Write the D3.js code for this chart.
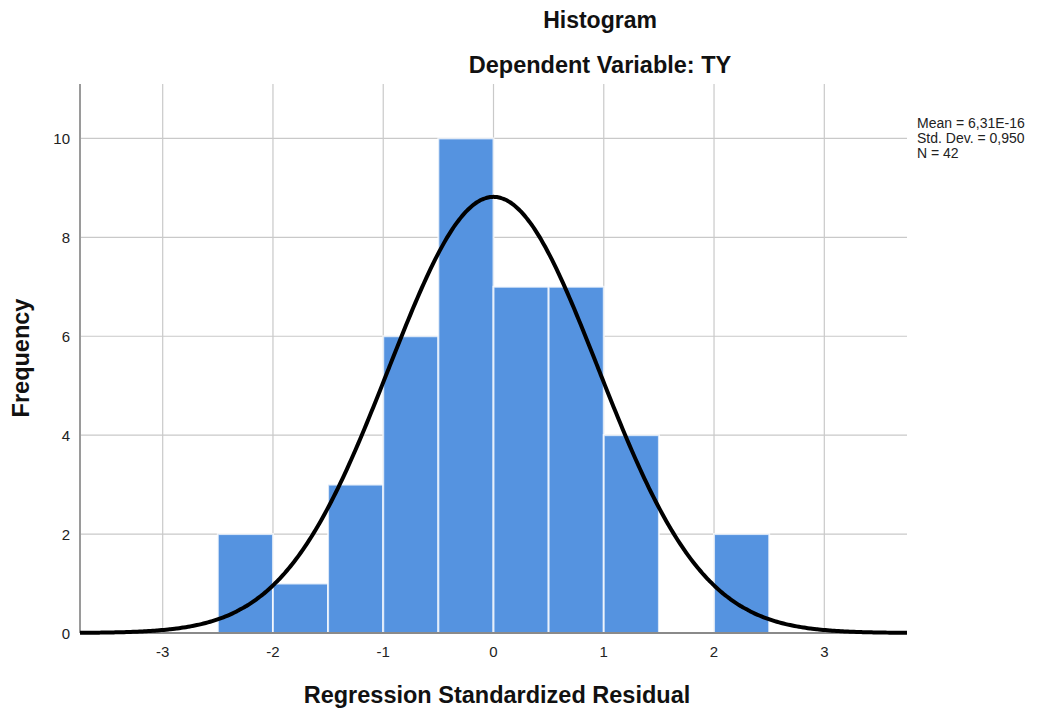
<!DOCTYPE html>
<html>
<head>
<meta charset="utf-8">
<script src="https://cdn.jsdelivr.net/npm/d3@7"></script>
<style>
  body { margin: 0; background: #fff; }
  text { font-family: "Liberation Sans", Arial, sans-serif; }
</style>
</head>
<body>
<div id="chart"></div>
<script>
// histogram bins (lower edge, upper edge) and counts
var binStart = [-2.5, -2, -1.5, -1, -0.5, 0, 0.5, 1, 1.5, 2];
var binEnd   = [-2, -1.5, -1, -0.5, 0, 0.5, 1, 1.5, 2, 2.5];
var counts   = [2, 1, 3, 6, 10, 7, 7, 4, 0, 2];

var xTicks = [-3, -2, -1, 0, 1, 2, 3];
var yTicks = [0, 2, 4, 6, 8, 10];

// fitted normal stats (from the legend)
var mean = 6.31e-16,
    stdDev = 0.950,
    nCases = 42;
var statLines = ['Mean = 6,31E-16', 'Std. Dev. = 0,950', 'N = 42'];

var width = 1047,
    height = 713;

var plotLeft = 80,
    plotRight = 907,
    plotTop = 84,
    plotBottom = 633;

var svg = d3.select('#chart')
    .append('svg')
    .attr('width', width)
    .attr('height', height);

var x = d3.scaleLinear()
    .domain([-3.75, 3.75])
    .range([plotLeft, plotRight]);

var y = d3.scaleLinear()
    .domain([0, 11.1])
    .range([plotBottom, plotTop]);

var gridColor = '#c9c9c9';

// vertical grid
svg.append('g')
    .selectAll('line')
    .data(xTicks)
    .enter()
    .append('line')
    .attr('x1', function (d) { return x(d); })
    .attr('x2', function (d) { return x(d); })
    .attr('y1', plotTop)
    .attr('y2', plotBottom)
    .attr('stroke', gridColor)
    .attr('stroke-width', 1.2);

// horizontal grid
svg.append('g')
    .selectAll('line')
    .data(yTicks.filter(function (d) { return d > 0; }))
    .enter()
    .append('line')
    .attr('x1', plotLeft)
    .attr('x2', plotRight)
    .attr('y1', function (d) { return y(d); })
    .attr('y2', function (d) { return y(d); })
    .attr('stroke', gridColor)
    .attr('stroke-width', 1.2);

// bars
var bins = binStart.map(function (s, i) {
    return {x0: s, x1: binEnd[i], n: counts[i]};
});

svg.append('g')
    .selectAll('rect')
    .data(bins.filter(function (d) { return d.n > 0; }))
    .enter()
    .append('rect')
    .attr('x', function (d) { return x(d.x0); })
    .attr('width', function (d) { return x(d.x1) - x(d.x0); })
    .attr('y', function (d) { return y(d.n); })
    .attr('height', function (d) { return y(0) - y(d.n); })
    .attr('fill', '#5593e0')
    .attr('stroke', '#ffffff')
    .attr('stroke-opacity', 0.75)
    .attr('stroke-width', 2);

// axes lines
svg.append('line')
    .attr('x1', plotLeft).attr('x2', plotLeft)
    .attr('y1', plotTop).attr('y2', plotBottom)
    .attr('stroke', '#9a9a9a')
    .attr('stroke-width', 2);

svg.append('line')
    .attr('x1', plotLeft).attr('x2', plotRight)
    .attr('y1', plotBottom).attr('y2', plotBottom)
    .attr('stroke', '#8a8a8a')
    .attr('stroke-width', 2);

// normal curve scaled to counts
var binWidth = binEnd[0] - binStart[0];
var curveX = d3.range(-3.75, 3.7501, 0.02);
var line = d3.line()
    .x(function (d) { return x(d); })
    .y(function (d) {
        var z = (d - mean) / stdDev;
        return y(nCases * binWidth / (stdDev * Math.sqrt(2 * Math.PI)) * Math.exp(-0.5 * z * z));
    })
    .curve(d3.curveBasis);

svg.append('path')
    .datum(curveX)
    .attr('d', line)
    .attr('fill', 'none')
    .attr('stroke', '#000')
    .attr('stroke-width', 4);

// tick labels
svg.append('g')
    .selectAll('text')
    .data(xTicks)
    .enter()
    .append('text')
    .attr('x', function (d) { return x(d); })
    .attr('y', 657)
    .attr('text-anchor', 'middle')
    .attr('font-size', 15)
    .attr('fill', '#222')
    .text(function (d) { return d; });

svg.append('g')
    .selectAll('text')
    .data(yTicks)
    .enter()
    .append('text')
    .attr('x', 70)
    .attr('y', function (d) { return y(d) + 5.5; })
    .attr('text-anchor', 'end')
    .attr('font-size', 15)
    .attr('fill', '#222')
    .text(function (d) { return d; });

// titles
svg.append('text')
    .attr('x', 600)
    .attr('y', 28)
    .attr('text-anchor', 'middle')
    .attr('font-size', 23)
    .attr('font-weight', 'bold')
    .attr('fill', '#111')
    .text('Histogram');

svg.append('text')
    .attr('x', 600)
    .attr('y', 73)
    .attr('text-anchor', 'middle')
    .attr('font-size', 23.5)
    .attr('font-weight', 'bold')
    .attr('fill', '#111')
    .text('Dependent Variable: TY');

svg.append('text')
    .attr('x', 497)
    .attr('y', 703)
    .attr('text-anchor', 'middle')
    .attr('font-size', 23.5)
    .attr('font-weight', 'bold')
    .attr('fill', '#111')
    .text('Regression Standardized Residual');

svg.append('text')
    .attr('transform', 'translate(29,358) rotate(-90)')
    .attr('text-anchor', 'middle')
    .attr('font-size', 23.5)
    .attr('font-weight', 'bold')
    .attr('fill', '#111')
    .text('Frequency');

// stats legend
svg.append('g')
    .selectAll('text')
    .data(statLines)
    .enter()
    .append('text')
    .attr('x', 917)
    .attr('y', function (d, i) { return 128 + i * 15; })
    .attr('font-size', 14)
    .attr('fill', '#222')
    .text(function (d) { return d; });
</script>
</body>
</html>
